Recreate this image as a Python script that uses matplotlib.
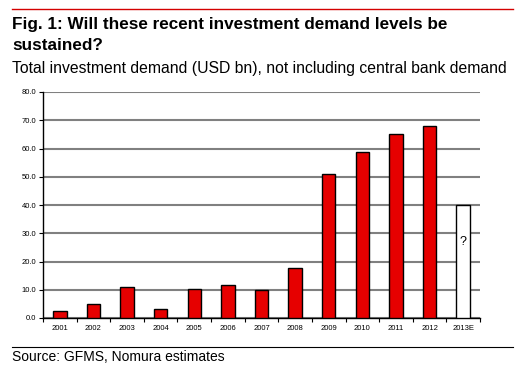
import matplotlib.pyplot as plt
from matplotlib.lines import Line2D

years = ['2001', '2002', '2003', '2004', '2005', '2006', '2007',
         '2008', '2009', '2010', '2011', '2012', '2013E']
demand = [2.5, 5.0, 10.9, 3.2, 10.3, 11.7, 10.0, 17.7, 50.8, 58.8, 65.0, 67.8, 40.0]
colors = ['#e60000'] * 12 + ['white']

fig = plt.figure(figsize=(5.25, 3.72), dpi=100)
plt.rcParams['font.family'] = ['Liberation Sans', 'DejaVu Sans']

# top red rule and bottom black rule
fig.add_artist(Line2D([12/525, 513/525], [1 - 9/372, 1 - 9/372], color='#d40000', lw=1.0))
fig.add_artist(Line2D([12/525, 513/525], [1 - 347/372, 1 - 347/372], color='black', lw=0.8))

fig.text(12/525, 1 - 25/372, 'Fig. 1: Will these recent investment demand levels be',
         fontsize=12.3, fontweight='bold', va='center')
fig.text(12/525, 1 - 45/372, 'sustained?', fontsize=12.3, fontweight='bold', va='center')
fig.text(12/525, 1 - 68/372, 'Total investment demand (USD bn), not including central bank demand',
         fontsize=11.3, va='center')
fig.text(12/525, 1 - 357/372, 'Source: GFMS, Nomura estimates', fontsize=10, va='center')

ax = fig.add_axes([43/525, 1 - 318/372, 437/525, 226/372])
x = list(range(len(years)))
ax.bar(x, demand, width=0.4, color=colors, edgecolor='black', linewidth=1.0, zorder=3)
ax.text(x[-1], 27, '?', ha='center', va='center', fontsize=9, zorder=4)

ax.set_xlim(-0.5, len(years) - 0.5)
ax.set_ylim(0, 80)
ax.set_yticks(range(0, 81, 10))
ax.set_yticklabels([f'{v:.1f}' for v in range(0, 81, 10)], fontsize=5.5)
ax.set_xticks(x)
ax.set_xticklabels(years, fontsize=5.5)
ax.set_xticks([i + 0.5 for i in range(-1, len(years))], minor=True)
ax.tick_params(axis='x', which='major', length=0, pad=5)
ax.tick_params(axis='x', which='minor', length=3, width=0.8, direction='out')
ax.tick_params(axis='y', length=3, width=0.8, pad=2)
ax.grid(axis='y', color='#808080', lw=1.5, zorder=1)
for side in ['top', 'right']:
    ax.spines[side].set_visible(False)
ax.spines['left'].set_linewidth(1.0)
ax.spines['bottom'].set_linewidth(1.0)

plt.savefig('out.png', dpi=100)
